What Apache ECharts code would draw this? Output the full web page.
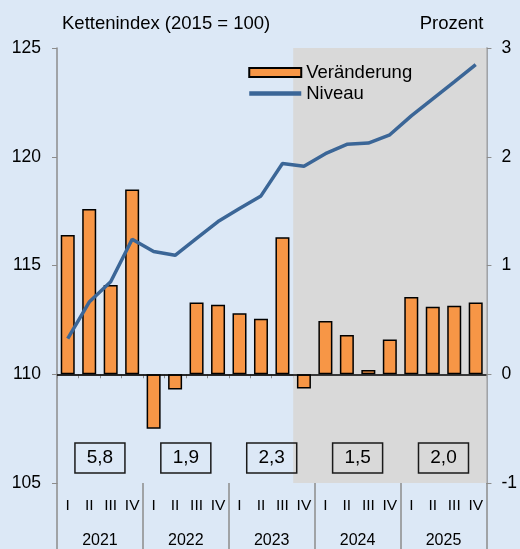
<!DOCTYPE html>
<html>
<head>
<meta charset="UTF-8">
<title>Kettenindex und Veränderung</title>
<script src="https://cdn.jsdelivr.net/npm/echarts@6/dist/echarts.min.js"></script>
<style>
  html, body { margin: 0; padding: 0; background: #dce8f6; }
  #chart { width: 520px; height: 549px; }
</style>
</head>
<body>
<div id="chart"></div>
<script>
// Quartale 2021 bis 2025
var quarters = ['I', 'II', 'III', 'IV', 'I', 'II', 'III', 'IV', 'I', 'II', 'III', 'IV',
                'I', 'II', 'III', 'IV', 'I', 'II', 'III', 'IV'];
var years = ['2021', '2022', '2023', '2024', '2025'];

// Veränderung gegenüber Vorquartal (Prozent, rechte Achse)
var change = [1.28, 1.52, 0.82, 1.70, -0.50, -0.14, 0.66, 0.64, 0.56, 0.51, 1.26, -0.13,
              0.49, 0.36, 0.04, 0.32, 0.71, 0.62, 0.63, 0.66];

// Niveau, Kettenindex 2015 = 100 (linke Achse)
var level = [111.64, 113.32, 114.25, 116.21, 115.64, 115.47, 116.25, 117.02, 117.62, 118.20,
             119.69, 119.56, 120.14, 120.57, 120.63, 121.01, 121.88, 122.66, 123.44, 124.24];

// Jahresveränderung (Prozent)
var annual = ['5,8', '1,9', '2,3', '1,5', '2,0'];

// Prognosezeitraum ab 2023 Q4 (Index im Quartalsraster)
var forecastStart = 11;

var font = 'Liberation Sans, Arial, sans-serif';
var axisGrey = '#8c8c8c';

var chart = echarts.init(document.getElementById('chart'));

var option = {
    backgroundColor: '#dce8f6',
    textStyle: { fontFamily: font, color: '#000' },
    animation: false,
    grid: { left: 57, right: 33, top: 48, bottom: 66 },
    legend: {
        orient: 'vertical',
        left: 247,
        top: 63,
        padding: 0,
        itemWidth: 52,
        itemHeight: 9,
        itemGap: 2,
        textStyle: { fontFamily: font, fontSize: 18.5, color: '#000' },
        data: [
            { name: 'Veränderung', icon: 'rect', itemStyle: { borderColor: '#000', borderWidth: 2 } },
            { name: 'Niveau', itemStyle: { opacity: 0 }, lineStyle: { width: 4.5 } }
        ]
    },
    xAxis: [
        {
            type: 'category',
            data: quarters,
            position: 'bottom',
            axisLine: { show: true, lineStyle: { color: axisGrey, width: 1.5 } },
            axisTick: { show: true, interval: 0, length: 4, lineStyle: { color: axisGrey } },
            axisLabel: { interval: 0, margin: 15, fontSize: 15.5, color: '#000', fontFamily: font }
        },
        {
            type: 'category',
            data: years,
            position: 'bottom',
            axisLine: { show: false },
            axisTick: { show: true, interval: 0, length: 66, lineStyle: { color: axisGrey, width: 1.5 } },
            axisLabel: { interval: 0, margin: 50, fontSize: 16, color: '#000', fontFamily: font }
        },
        {
            type: 'value',
            min: 0,
            max: quarters.length,
            show: false
        }
    ],
    yAxis: [
        {
            type: 'value',
            min: 105,
            max: 125,
            interval: 5,
            name: 'Kettenindex (2015 = 100)',
            nameLocation: 'end',
            nameGap: 15,
            nameTextStyle: { fontSize: 18.5, align: 'left', color: '#000', padding: [0, 0, 0, 5], fontFamily: font },
            axisLine: { show: true, lineStyle: { color: axisGrey, width: 1.5 } },
            axisTick: { show: true, length: 5, lineStyle: { color: axisGrey } },
            axisLabel: { margin: 16, fontSize: 17.5, color: '#000', fontFamily: font },
            splitLine: { show: false }
        },
        {
            type: 'value',
            min: -1,
            max: 3,
            interval: 1,
            position: 'right',
            name: 'Prozent',
            nameLocation: 'end',
            nameGap: 15,
            nameTextStyle: { fontSize: 18.5, align: 'right', color: '#000', padding: [0, 3, 0, 0], fontFamily: font },
            axisLine: { show: true, lineStyle: { color: axisGrey, width: 1.5 } },
            axisTick: { show: true, length: 5, lineStyle: { color: axisGrey } },
            axisLabel: { margin: 15, fontSize: 17.5, color: '#000', fontFamily: font },
            splitLine: { show: false }
        }
    ],
    series: [
        {
            // Jahreswerte in Kästchen, plus Schattierung des Prognosezeitraums
            name: 'Jahr',
            type: 'scatter',
            xAxisIndex: 2,
            yAxisIndex: 1,
            z: 1,
            symbolSize: 0,
            silent: true,
            itemStyle: { opacity: 1 },
            data: annual.map(function (v, i) { return { value: [i * 4 + 2, -0.77], text: v }; }),
            label: {
                show: true,
                position: 'inside',
                formatter: function (p) { return p.data.text; },
                fontSize: 19,
                color: '#000',
                opacity: 1,
                fontFamily: font,
                width: 50,
                height: 30,
                lineHeight: 32,
                align: 'center',
                verticalAlign: 'middle',
                borderColor: '#1a1a1a',
                borderWidth: 1.5
            },
            markArea: {
                silent: true,
                itemStyle: { color: '#d9d9d9' },
                data: [[{ xAxis: forecastStart }, { xAxis: quarters.length }]]
            }
        },
        {
            name: 'Veränderung',
            type: 'bar',
            xAxisIndex: 0,
            yAxisIndex: 1,
            z: 2,
            barWidth: 14,
            data: change,
            itemStyle: { color: '#f79646', borderColor: '#000', borderWidth: 1.5 },
            markLine: {
                silent: true,
                symbol: 'none',
                label: { show: false },
                lineStyle: { color: '#000', width: 1.5, type: 'solid' },
                data: [{ yAxis: 0 }]
            }
        },
        {
            name: 'Niveau',
            type: 'line',
            xAxisIndex: 0,
            yAxisIndex: 0,
            z: 3,
            symbol: 'none',
            data: level,
            lineStyle: { color: '#3b6697', width: 3.5 },
            itemStyle: { color: '#3b6697' }
        }
    ]
};

chart.setOption(option);
</script>
</body>
</html>
